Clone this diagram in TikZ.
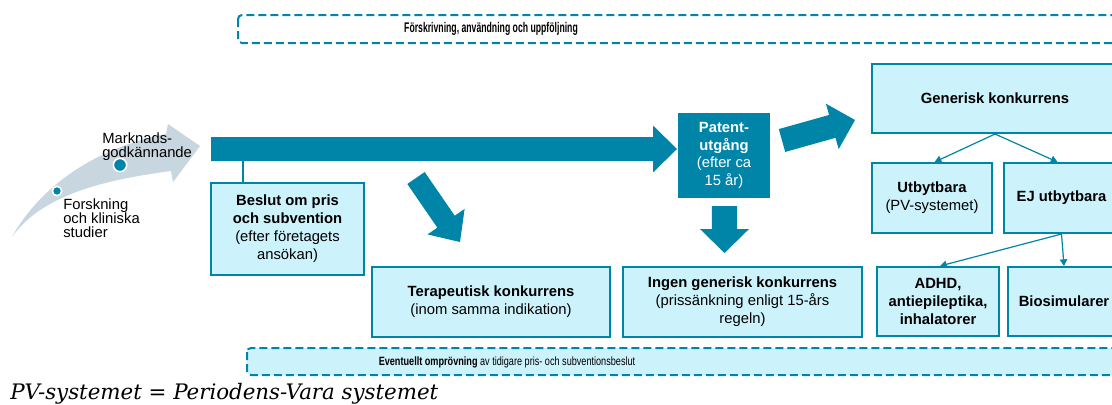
\documentclass[tikz,border=0pt]{standalone}
\usepackage{fontspec}
\setmainfont{Liberation Sans}
\newfontfamily\narrowtop[FakeStretch=0.62]{Liberation Sans}
\newfontfamily\narrowbot[FakeStretch=0.76]{Liberation Sans}
\newfontfamily\notefont{DejaVu Serif}
\usetikzlibrary{calc,arrows.meta}
\definecolor{teal1}{RGB}{0,133,168}
\definecolor{lightc}{RGB}{204,242,252}
\definecolor{greyb}{RGB}{200,214,224}
\newcommand{\blockarr}[5]{%
  \coordinate (ba-a) at (#1); \coordinate (ba-b) at (#2);
  \coordinate (ba-h) at ($(ba-b)!#5!(ba-a)$);
  \fill[teal1] ($(ba-a)!#3!90:(ba-b)$) -- ($(ba-h)!#3!90:(ba-b)$) -- ($(ba-h)!#4!90:(ba-b)$) -- (ba-b)
     -- ($(ba-h)!#4!-90:(ba-b)$) -- ($(ba-h)!#3!-90:(ba-b)$) -- ($(ba-a)!#3!-90:(ba-b)$) -- cycle;}
\tikzset{
  box/.style={draw=teal1, fill=lightc, line width=1.5pt, align=center, inner sep=2pt,
    font=\fontsize{11.1}{13.5}\selectfont},
  dashbox/.style={draw=teal1, line width=1.5pt, dash pattern=on 6pt off 3pt, rounded corners=3pt},
  conn/.style={draw=teal1, line width=0.9pt, -{Triangle[width=5.5pt,length=5pt]}},
  lbl/.style={inner sep=0pt, align=left, font=\fontsize{11.1}{10.5}\selectfont},
  dot/.style={circle, fill=teal1, draw=white, line width=1.2pt, inner sep=0pt}
}
\begin{document}
\begin{tikzpicture}[x=0.75pt, y=-0.75pt]
\clip (0,0) rectangle (1112,404);
\fill[white] (0,0) rectangle (1112,404);

% top dashed band
\draw[dashbox, fill=white] (238,15) rectangle (1135,43);
\node[inner sep=0pt, font=\narrowtop\bfseries\fontsize{10.5}{12}\selectfont] (topt) at (491,29) {Förskrivning, användning och uppföljning};

% bottom dashed band
\draw[dashbox, fill=lightc] (247,348) rectangle (1135,375);
\node[inner sep=0pt, font=\narrowbot\fontsize{9}{11}\selectfont] (bott) at (507,362) {\textbf{Eventuellt omprövning} av tidigare pris- och subventionsbeslut};

% curved grey arrow
\fill[greyb] (12,237) .. controls (35,195) and (85,150) .. (166,134) -- (168,124) -- (200,146) -- (173,182) -- (171,171)
  .. controls (120,178) and (45,190) .. (12,237) -- cycle;
\node[dot, minimum size=7pt] (d1) at (57,191) {};
\node[dot, minimum size=10pt] (d2) at (120,165) {};
\node[lbl, anchor=north west] (mk) at (102,133) {Marknads-\\godkännande};
\node[lbl, anchor=north west] (fo) at (63,199) {Forskning\\och kliniska\\studier};

% main arrow
\blockarr{211,149}{677,149}{9pt}{17.6pt}{18pt}
\coordinate (bj) at (243,158);

% boxes
\node[box, minimum width=114.75pt, minimum height=69pt] (beslut) at (287.5,229)
  {\textbf{Beslut om pris}\\\textbf{och subvention}\\(efter företagets\\ansökan)};
\draw[teal1, line width=2.2pt] (bj) -- (bj |- beslut.north);

\node[fill=teal1, text=white, align=center, inner sep=2pt, minimum width=69pt, minimum height=63.75pt,
  font=\fontsize{11.1}{13.3}\selectfont] (patent) at (724,155.5)
  {\textbf{Patent-}\\\textbf{utgång}\\(efter ca\\15 år)};

\node[box, minimum width=184.5pt, minimum height=51.75pt] (gen) at (995,98.5) {\textbf{Generisk konkurrens}};
\node[box, minimum width=90pt, minimum height=52.5pt] (utb) at (932,198) {\textbf{Utbytbara}\\(PV-systemet)};
\node[box, minimum width=86.25pt, minimum height=52.5pt] (ej) at (1061.5,198) {\textbf{EJ utbytbara}};
\node[box, minimum width=91.5pt, minimum height=51.75pt] (adhd) at (938,301.5) {\textbf{ADHD,}\\\textbf{antiepileptika,}\\\textbf{inhalatorer}};
\node[box, minimum width=84pt, minimum height=51.75pt] (bio) at (1064,301.5) {\textbf{Biosimularer}};
\node[box, minimum width=178.5pt, minimum height=52.5pt] (ter) at (491,302) {\textbf{Terapeutisk konkurrens}\\(inom samma indikation)};
\node[box, minimum width=179.25pt, minimum height=52.5pt] (ingen) at (742.5,302) {\textbf{Ingen generisk konkurrens}\\(prissänkning enligt 15-års\\regeln)};

% block arrows
\blockarr{416,178}{460,242}{7.9pt}{16.9pt}{18.5pt}
\blockarr{724.5,206}{724.5,253}{9.4pt}{18.4pt}{18pt}
\blockarr{782,140.5}{855,120}{8.9pt}{17.7pt}{17.7pt}

% connectors
\draw[conn] (gen.south) -- ([xshift=2pt]utb.north);
\draw[conn] (gen.south) -- ([xshift=-3pt]ej.north);
\draw[conn] (ej.south) -- ([xshift=1.5pt]adhd.north);
\draw[conn] (ej.south) -- (bio.north);

% footnote
\node[inner sep=0pt, anchor=base west, font=\notefont\itshape\fontsize{16}{18}\selectfont] (note) at (10,399)
  {PV-systemet = Periodens-Vara systemet};
\end{tikzpicture}
\end{document}
